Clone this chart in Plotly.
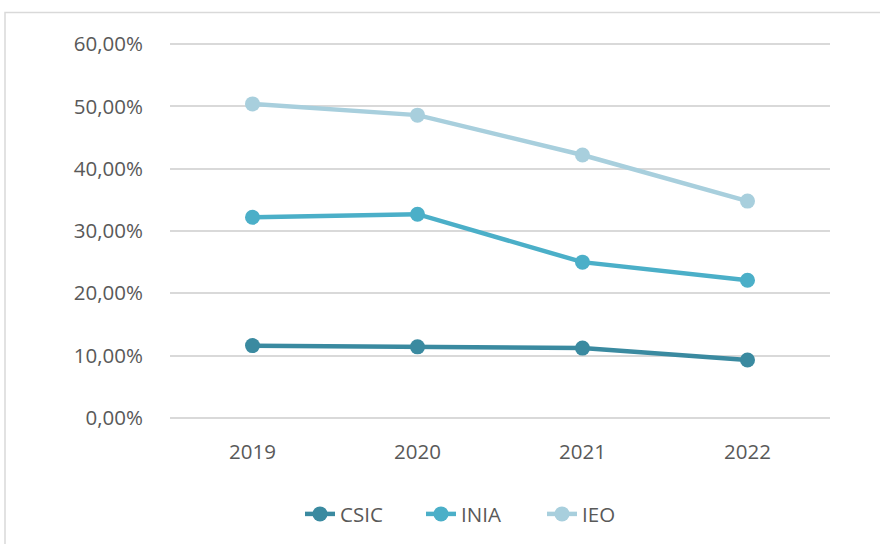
import plotly.graph_objects as go

years = ["2019", "2020", "2021", "2022"]
csic = [0.116, 0.114, 0.112, 0.093]
inia = [0.322, 0.327, 0.250, 0.221]
ieo = [0.504, 0.486, 0.422, 0.348]
y_ticks = [0, 0.1, 0.2, 0.3, 0.4, 0.5, 0.6]

series = [("CSIC", csic, "#3A8AA0"), ("INIA", inia, "#4BAFC8"), ("IEO", ieo, "#A8CFDD")]

fig = go.Figure()
for name, vals, col in series:
    fig.add_trace(go.Scatter(
        x=years, y=vals, name=name, mode="lines+markers",
        line=dict(color=col, width=4.5),
        marker=dict(color=col, size=15),
    ))

fig.update_layout(
    width=880, height=544,
    margin=dict(l=170, r=50, t=41, b=123),
    paper_bgcolor="white", plot_bgcolor="white",
    separators=",.",
    font=dict(family="Open Sans", size=20.5, color="#595959"),
    showlegend=True,
    legend=dict(orientation="h", x=0.472, xanchor="center", yref="container",
                y=0.055, yanchor="middle",
                font=dict(size=20.5, color="#595959"), traceorder="normal",
                entrywidth=76, entrywidthmode="pixels"),
    xaxis=dict(type="category", range=[-0.5, 3.5], showgrid=False, showline=False,
               zeroline=False, ticks="", ticklabelstandoff=16),
    yaxis=dict(range=[-0.005, 0.605], tickvals=y_ticks, tickformat=".2%", showgrid=True,
               gridcolor="#D9D9D9", gridwidth=1.5, zeroline=False, showline=False,
               ticks="", ticklabelstandoff=26),
    shapes=[dict(type="rect", xref="paper", yref="paper", x0=-0.25, x1=1.1,
                 y0=-0.4, y1=1.075, line=dict(color="#D9D9D9", width=1.5),
                 fillcolor="rgba(0,0,0,0)", layer="below")],
)

fig.write_html("out.html", config={"displayModeBar": False},
               post_script="document.body.style.margin='0';")
